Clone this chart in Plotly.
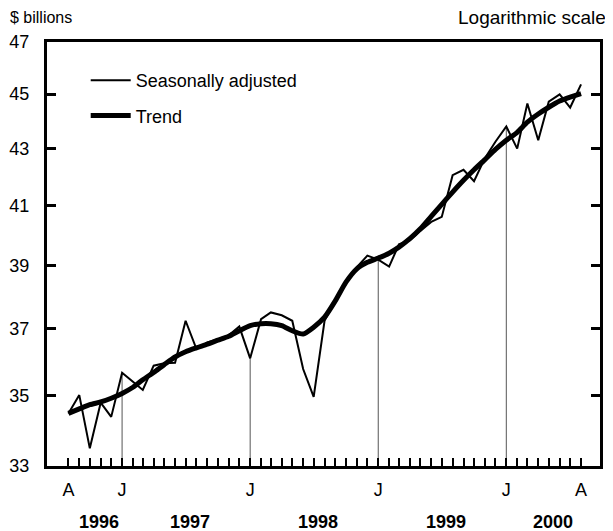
import math

import pandas as pd
import plotly.graph_objects as go

# Monthly, Aug 1996 .. Aug 2000 ($ billions, log scale)
months = pd.date_range("1996-08-01", "2000-08-01", freq="MS")

seasonally_adjusted = [
    34.48, 35.01, 33.49, 34.79, 34.38,                                                  # 1996
    35.67, 35.40, 35.16, 35.88, 35.95, 35.97, 37.25, 36.38, 36.58, 36.68, 36.80, 37.07,  # 1997
    36.10, 37.30, 37.51, 37.42, 37.25, 35.78, 34.96, 37.25, 37.90, 38.52, 38.95, 39.33,  # 1998
    39.20, 38.97, 39.70, 39.83, 40.15, 40.45, 40.62, 42.06, 42.25, 41.85, 42.66, 43.25,  # 1999
    43.80, 43.00, 44.65, 43.30, 44.72, 44.99, 44.50, 45.37,                              # 2000
]
trend = [
    34.48, 34.61, 34.73, 34.81, 34.92,
    35.06, 35.24, 35.46, 35.68, 35.91, 36.14, 36.30, 36.42, 36.53, 36.65, 36.77, 36.94,
    37.10, 37.16, 37.16, 37.10, 36.94, 36.84, 37.05, 37.36, 37.88, 38.47, 38.90, 39.11,
    39.25, 39.41, 39.61, 39.89, 40.22, 40.64, 41.05, 41.47, 41.88, 42.25, 42.61, 42.97,
    43.30, 43.59, 43.96, 44.26, 44.51, 44.74, 44.89, 45.02,
]

y_ticks = [33, 35, 37, 39, 41, 43, 45, 47]
# month letter under the axis: A at both ends, J at each January, blank otherwise
month_labels = ["A" if m in (months[0], months[-1]) else ("J" if m.month == 1 else "")
                for m in months]
years = [1996, 1997, 1998, 1999, 2000]

FONT = "Arial, Liberation Sans, sans-serif"
INK = "#000000"
PAGE_PAD = 8  # the browser's default body margin shifts the figure by this much

fig = go.Figure()

# thin drop lines from the January values down to the axis
jan_x, jan_y = [], []
for m, v in zip(months, seasonally_adjusted):
    if m.month == 1:
        jan_x += [m, m, None]
        jan_y += [y_ticks[0], v, None]
fig.add_trace(go.Scatter(x=jan_x, y=jan_y, mode="lines", showlegend=False,
                         line=dict(color="#555555", width=1), hoverinfo="skip"))

fig.add_trace(go.Scatter(x=months, y=seasonally_adjusted, mode="lines",
                         name="Seasonally adjusted", legendgroup="a",
                         line=dict(color=INK, width=2)))
fig.add_trace(go.Scatter(x=months, y=trend, mode="lines", name="Trend", legendgroup="b",
                         line=dict(color=INK, width=5, shape="spline", smoothing=0.6)))

# bold year captions centred under each year's months
for yr in years:
    sel = months[months.year == yr]
    centre = sel[0] + (sel[-1] - sel[0]) / 2 + pd.Timedelta(days=27)
    fig.add_annotation(x=centre, y=-0.132, xref="x", yref="paper", text="<b>%d</b>" % yr,
                       showarrow=False, font=dict(family=FONT, size=18, color=INK),
                       yanchor="middle", xanchor="center")

fig.add_annotation(x=0, y=1, xref="paper", yref="paper", xshift=-39, yshift=25,
                   text="$ billions", showarrow=False, xanchor="left", yanchor="middle",
                   font=dict(family=FONT, size=16, color=INK))
fig.add_annotation(x=1, y=1, xref="paper", yref="paper", xshift=8, yshift=25,
                   text="Logarithmic scale", showarrow=False, xanchor="right", yanchor="middle",
                   font=dict(family=FONT, size=19, color=INK))

fig.update_layout(
    width=613 - PAGE_PAD, height=531 - PAGE_PAD,
    margin=dict(l=47 - PAGE_PAD, r=13, t=42 - PAGE_PAD, b=65),
    paper_bgcolor="white", plot_bgcolor="white",
    font=dict(family=FONT, size=18, color=INK),
    showlegend=True,
    legend=dict(x=0.07, y=0.953, xanchor="left", yanchor="top",
                font=dict(family=FONT, size=18, color=INK),
                bgcolor="rgba(0,0,0,0)", tracegroupgap=9, itemwidth=40),
)
fig.update_xaxes(
    range=[pd.Timestamp("1996-06-01"), pd.Timestamp("2000-09-24")],
    tickmode="array", tickvals=list(months), ticktext=month_labels,
    ticks="inside", ticklen=8, tickwidth=2, tickcolor=INK,
    showline=True, linewidth=3, linecolor=INK, mirror=True,
    showgrid=False, zeroline=False, automargin=False,
    tickfont=dict(family=FONT, size=18, color=INK),
    ticklabelstandoff=5,
)
fig.update_yaxes(
    type="log",
    range=[math.log10(y_ticks[0]), math.log10(y_ticks[-1])],
    tickmode="array", tickvals=y_ticks, ticktext=[str(t) for t in y_ticks],
    ticks="inside", ticklen=9, tickwidth=3, tickcolor=INK,
    showline=True, linewidth=3, linecolor=INK, mirror="allticks",
    showgrid=False, zeroline=False, automargin=False,
    tickfont=dict(family=FONT, size=18, color=INK),
    ticklabelstandoff=11,
)

fig.write_html("out.html")
